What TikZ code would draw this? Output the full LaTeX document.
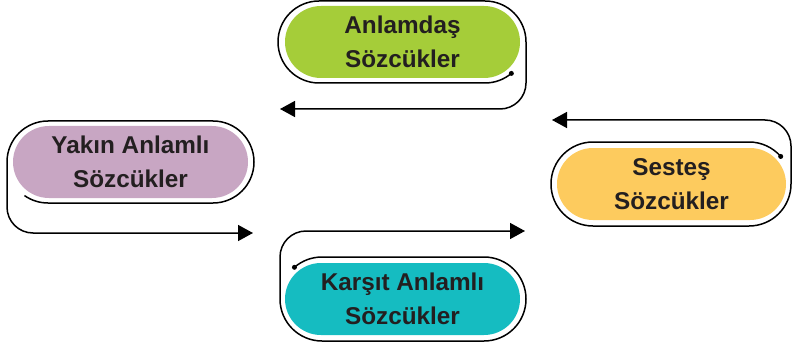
\documentclass[tikz,border=0pt]{standalone}
\usepackage{fontspec}
\setmainfont{Liberation Sans}
\usetikzlibrary{arrows.meta}
\definecolor{cgreen}{HTML}{A5CD39}
\definecolor{cmauve}{HTML}{C8A6C3}
\definecolor{cyellow}{HTML}{FDCB5E}
\definecolor{cteal}{HTML}{15BCC1}
\definecolor{ctext}{HTML}{231F20}
\begin{document}
\begin{tikzpicture}[x=1pt,y=1pt,
  pill/.style={rectangle, rounded corners=36pt, minimum width=235pt, minimum height=72pt,
    inner sep=0pt, align=center, font=\fontsize{24.3}{34}\selectfont\bfseries, text=ctext},
  loopline/.style={line width=1.5pt, line join=round, -{Triangle[length=15pt,width=16pt]}},
  dotmark/.style={circle, fill=black, inner sep=0pt, minimum size=5pt}]
\useasboundingbox (0,0) rectangle (792,346);

% nodes
\node[pill, fill=cgreen] (g) at (402.5,304) {Anlamdaş\\Sözcükler};
\node[pill, fill=cmauve] (m) at (130.5,184) {Yakın Anlamlı\\Sözcükler};
\node[pill, fill=cyellow, minimum width=229pt] (y) at (671.5,162) {Sesteş\\Sözcükler};
\node[pill, fill=cteal] (t) at (402.5,47) {Karşıt Anlamlı\\Sözcükler};

% start / end points
\coordinate (gs) at ({485+41*cos(-50)},{304+41*sin(-50)});
\coordinate (ge) at (280,237);
\coordinate (ms) at ({48+41*cos(235)},{184+41*sin(235)});
\coordinate (me) at (253,113);
\coordinate (ys) at ({749+42*cos(41)},{162+42*sin(41)});
\coordinate (ye) at (552,226);
\coordinate (ts) at ({322+42*cos(131)},{47+42*sin(131)});
\coordinate (te) at (525,115);

% connectors
\draw[loopline] (gs) arc[start angle=-50, end angle=-90, radius=41]
  -- (319,263) arc[start angle=270, end angle=90, radius=41]
  -- (485,345) arc[start angle=90, end angle=0, radius=41]
  -- (526,263) arc[start angle=0, end angle=-90, radius=26]
  -- (ge);
\draw[loopline] (ms) arc[start angle=235, end angle=270, radius=41]
  -- (213,143) arc[start angle=-90, end angle=90, radius=41]
  -- (48,225) arc[start angle=90, end angle=180, radius=41]
  -- (7,139) arc[start angle=180, end angle=270, radius=26]
  -- (me);
\draw[loopline] (ys) arc[start angle=41, end angle=90, radius=42]
  -- (593,204) arc[start angle=90, end angle=270, radius=42]
  -- (749,120) arc[start angle=-90, end angle=0, radius=42]
  -- (791,200) arc[start angle=0, end angle=90, radius=26]
  -- (ye);
\draw[loopline] (ts) arc[start angle=131, end angle=90, radius=42]
  -- (484,89) arc[start angle=90, end angle=-90, radius=42]
  -- (322,5) arc[start angle=270, end angle=180, radius=42]
  -- (280,89) arc[start angle=180, end angle=90, radius=26]
  -- (te);

% dots
\node[dotmark] (gdot) at (gs) {};
\node[dotmark] (ydot) at (ys) {};
\node[dotmark] (tdot) at (ts) {};
\end{tikzpicture}
\end{document}
